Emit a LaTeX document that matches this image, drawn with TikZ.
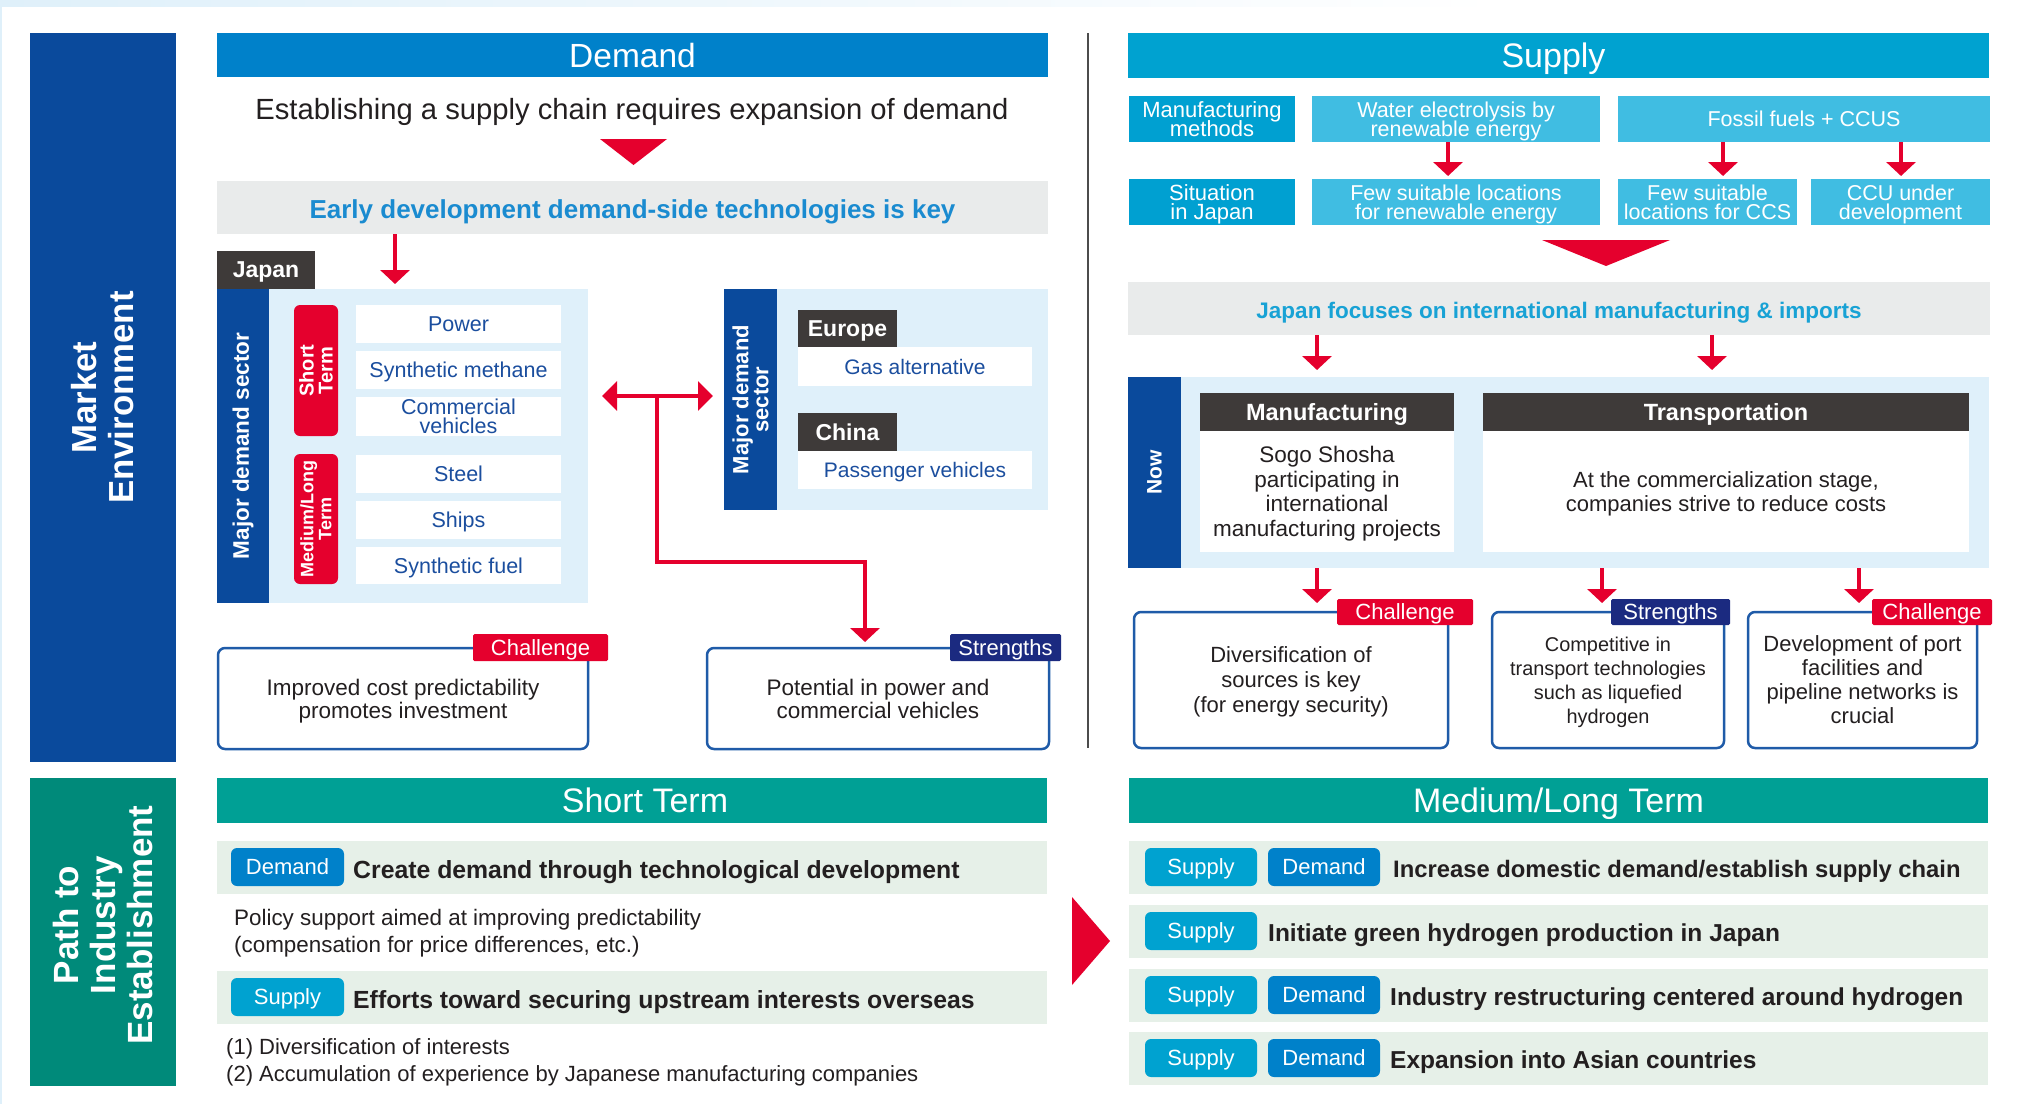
\documentclass[tikz,border=0pt]{standalone}
\usepackage{fontspec}
\setmainfont{Liberation Sans}
\usetikzlibrary{arrows.meta}
\newcommand\fs[2]{\fontsize{#1}{#2}\selectfont\lineskiplimit=-100pt\relax}
\definecolor{mktblue}{HTML}{0A4A9C}
\definecolor{dmdblue}{HTML}{0081CA}
\definecolor{supblue}{HTML}{00A2D0}
\definecolor{cyanA}{HTML}{00A0D1}
\definecolor{cyanB}{HTML}{40BDE2}
\definecolor{bandgray}{HTML}{E9EBEB}
\definecolor{panelblue}{HTML}{DFF0FA}
\definecolor{hred}{HTML}{E5002D}
\definecolor{darktab}{HTML}{3E3A39}
\definecolor{navytab}{HTML}{1B2A80}
\definecolor{hteal}{HTML}{00A095}
\definecolor{pathteal}{HTML}{008A7A}
\definecolor{lgreen}{HTML}{E6F0E8}
\definecolor{itemblue}{HTML}{1B4E9E}
\definecolor{earlyblue}{HTML}{1A8BD0}
\definecolor{focusblue}{HTML}{18A2D5}
\definecolor{ink}{HTML}{231F20}
\definecolor{boxblue}{HTML}{1F5BA8}
\newcommand\Bx[7]{\node[#2, anchor=north west, minimum width={(#5-#3)*1pt}, minimum height={(#6-#4)*1pt}] (#1) at (#3,#4) {#7};}
\begin{document}
\begin{tikzpicture}[x=1pt,y=-1pt,
  base/.style={inner sep=0pt, outer sep=0pt, align=center, text depth=0pt},
  fillbox/.style={base, fill=#1},
  hdr/.style={base, fill=#1, text=white, font=\fs{34}{36}},
  lbl/.style={base},
  rot/.style={rotate=90, text=white, align=center, inner sep=0pt, font=\bfseries\fs{22}{21}},
  tabdark/.style={base, fill=darktab, text=white, font=\bfseries\fs{23}{26}},
  item/.style={base, fill=white, text=itemblue, font=\fs{21.5}{19}},
  sbox/.style={base, fill=#1, text=white, font=\fs{21.5}{18.5}},
  cbox/.style={base, fill=white, draw=boxblue, line width=2.5pt, rounded corners=7pt, text=ink},
  ctab/.style={base, fill=#1, text=white, font=\fs{22}{24}, rounded corners=1.5pt},
  badge/.style={base, fill=#1, text=white, font=\fs{22}{24}, rounded corners=6pt},
  rowtxt/.style={inner sep=0pt, anchor=west, text depth=0pt, text=ink, font=\bfseries\fs{24.5}{26}},
  rarrow/.style={draw=hred, line width=4.5pt, -{Triangle[width=29pt,length=14pt]}},
  dbl/.style={draw=hred, line width=4.5pt, {Triangle[width=29pt,length=15pt]}-{Triangle[width=29pt,length=15pt]}}
]
\useasboundingbox (0,0) rectangle (2017,1104);
\fill[white] (0,0) rectangle (2017,1104);
\shade[left color=panelblue, right color=white] (0,0) rectangle (1500,6);
\fill[panelblue] (0,0) rectangle (2,1104);

% ---------- left side bars
\Bx{mkt}{fillbox=mktblue}{30}{33}{176}{762}{}
\node[rot, font=\bfseries\fs{34.8}{37}] at (mkt.center) {Market\\Environment};
\Bx{path}{fillbox=pathteal}{30}{778}{176}{1086}{}
\node[rot, font=\bfseries\fs{35}{37}] at ([yshift=7pt]path.center) {Path to\\Industry\\Establishment};

% ---------- Demand
\Bx{dhdr}{hdr=dmdblue, font=\fs{33.5}{36}}{217}{33}{1048}{77}{Demand}
\node[lbl, text=ink, font=\fs{29.2}{32}] (estab) at (632,109) {Establishing a supply chain requires expansion of demand};
\fill[hred] (600,139) -- (667,139) -- (633.5,165) -- cycle;
\Bx{early}{fillbox=bandgray}{217}{181}{1048}{234}{}
\node[lbl, text=earlyblue, font=\bfseries\fs{26}{28}] at ([yshift=-1.5pt]early.center) {Early development demand-side technologies is key};

\Bx{jtab}{tabdark}{217}{251}{315}{289}{Japan}
\Bx{jpanel}{fillbox=panelblue}{217}{289}{588}{603}{}
\Bx{jstrip}{fillbox=mktblue}{217}{289}{269}{603}{}
\node[rot, font=\bfseries\fs{22.5}{22}] at (jstrip.center) {Major demand sector};
\Bx{st}{fillbox=hred, rounded corners=6pt}{294}{305}{338}{436}{}
\node[rot, font=\bfseries\fs{20}{19}] at (st.center) {Short\\Term};
\Bx{ml}{fillbox=hred, rounded corners=6pt}{294}{454}{338}{584}{}
\node[rot, font=\bfseries\fs{18}{18}] at (ml.center) {Medium/Long\\Term};
\Bx{it1}{item}{356}{305}{561}{343}{Power}
\Bx{it2}{item}{356}{351}{561}{389}{Synthetic methane}
\Bx{it3}{item}{356}{397}{561}{436}{Commercial\\vehicles}
\Bx{it4}{item}{356}{455}{561}{493}{Steel}
\Bx{it5}{item}{356}{501}{561}{539}{Ships}
\Bx{it6}{item}{356}{547}{561}{584}{Synthetic fuel}

\Bx{wpanel}{fillbox=panelblue}{724}{289}{1048}{510}{}
\Bx{wstrip}{fillbox=mktblue}{724}{289}{777}{510}{}
\node[rot, font=\bfseries\fs{22}{20}] at (wstrip.center) {Major demand\\sector};
\Bx{eutab}{tabdark}{798}{310}{897}{347}{Europe}
\Bx{gas}{item, font=\fs{21}{20}}{798}{347}{1032}{386}{Gas alternative}
\Bx{cntab}{tabdark}{798}{413}{897}{451}{China}
\Bx{pass}{item, font=\fs{21}{20}}{798}{451}{1032}{489}{Passenger vehicles}

\Bx{chl1}{cbox, font=\fs{22.5}{23}}{218}{648}{588}{749}{Improved cost predictability\\promotes investment}
\Bx{chl1t}{ctab=hred}{473}{634}{608}{661}{Challenge}
\Bx{str1}{cbox, font=\fs{22.5}{23}}{707}{648}{1049}{749}{Potential in power and\\commercial vehicles}
\Bx{str1t}{ctab=navytab}{950}{634}{1061}{661}{Strengths}

% arrows demand side
\coordinate (a1) at (395,0);
\draw[rarrow, shorten >=5pt] (early.south -| a1) -- (jpanel.north -| a1);
\coordinate (y396) at (0,396);
\draw[dbl, shorten <=14pt, shorten >=11pt] (jpanel.east |- y396) -- (wpanel.west |- y396);
\coordinate (e0) at (657,396);
\coordinate (e1) at (657,562);
\coordinate (e2) at (865,562);
\draw[rarrow, line width=4pt, shorten >=6pt] (e0) -- (e1) -- (e2) -- (e2 |- str1.north);

% divider
\draw[draw=black!70, line width=1.3pt] (1088,33) -- (1088,748);

% ---------- Supply
\Bx{shdr}{fillbox=supblue}{1128}{33}{1989}{78}{}
\node[lbl, text=white, font=\fs{34}{36}] at ([xshift=-5pt]shdr.center) {Supply};
\Bx{mm}{sbox=cyanA, font=\fs{22}{18.5}}{1129}{96}{1295}{142}{Manufacturing\\methods}
\Bx{we}{sbox=cyanB}{1312}{96}{1600}{142}{Water electrolysis by\\renewable energy}
\Bx{ff}{sbox=cyanB}{1618}{96}{1990}{142}{Fossil fuels + CCUS}
\Bx{sj}{sbox=cyanA, font=\fs{22}{18.5}}{1129}{179}{1295}{225}{Situation\\in Japan}
\Bx{fr}{sbox=cyanB}{1312}{179}{1600}{225}{Few suitable locations\\for renewable energy}
\Bx{fc}{sbox=cyanB}{1618}{179}{1797}{225}{Few suitable\\locations for CCS}
\Bx{ccu}{sbox=cyanB}{1811}{179}{1990}{225}{CCU under\\development}
\coordinate (x1) at (1448,0);
\coordinate (x2) at (1723,0);
\coordinate (x3) at (1901,0);
\draw[rarrow, shorten >=3pt] (we.south -| x1) -- (fr.north -| x1);
\draw[rarrow, shorten >=3pt] (ff.south -| x2) -- (fc.north -| x2);
\draw[rarrow, shorten >=3pt] (ff.south -| x3) -- (ccu.north -| x3);
\fill[hred] (1542,240) -- (1670,240) -- (1606,266) -- cycle;
\Bx{focus}{fillbox=bandgray}{1128}{282}{1990}{335}{}
\node[lbl, text=focusblue, font=\bfseries\fs{22.5}{25}] at ([yshift=-1.5pt]focus.center) {Japan focuses on international manufacturing \& imports};

\Bx{now}{fillbox=panelblue}{1128}{377}{1989}{568}{}
\Bx{nowstrip}{fillbox=mktblue}{1128}{377}{1181}{568}{}
\node[rot, font=\bfseries\fs{21}{22}] at (nowstrip.center) {Now};
\Bx{mfgh}{tabdark, font=\bfseries\fs{23.5}{26}}{1200}{393}{1454}{431}{Manufacturing}
\Bx{mfgb}{fillbox=white, text=ink, font=\fs{22.5}{24.5}}{1200}{431}{1454}{552}{Sogo Shosha\\participating in\\international\\manufacturing projects}
\Bx{trh}{tabdark, font=\bfseries\fs{23.5}{26}}{1483}{393}{1969}{431}{Transportation}
\Bx{trb}{fillbox=white, text=ink, font=\fs{22}{24}}{1483}{431}{1969}{552}{At the commercialization stage,\\companies strive to reduce costs}
\coordinate (x4) at (1317,0);
\coordinate (x5) at (1712,0);
\draw[rarrow, shorten >=7pt] (focus.south -| x4) -- (now.north -| x4);
\draw[rarrow, shorten >=7pt] (focus.south -| x5) -- (now.north -| x5);

\Bx{b1}{cbox, font=\fs{22}{25}}{1134}{612}{1448}{748}{Diversification of\\sources is key\\(for energy security)}
\Bx{b1t}{ctab=hred}{1337}{599}{1473}{625}{Challenge}
\Bx{b2}{cbox, font=\fs{19.9}{24}}{1492}{612}{1724}{748}{Competitive in\\transport technologies\\such as liquefied\\hydrogen}
\Bx{b2t}{ctab=navytab}{1611}{599}{1730}{625}{Strengths}
\Bx{b3}{cbox, font=\fs{22}{24}}{1748}{612}{1977}{748}{Development of port\\facilities and\\pipeline networks is\\crucial}
\Bx{b3t}{ctab=hred}{1872}{599}{1992}{625}{Challenge}
\coordinate (x6) at (1317,0);
\coordinate (x7) at (1602,0);
\coordinate (x8) at (1859,0);
\draw[rarrow, shorten >=9pt] (now.south -| x6) -- (b1.north -| x6);
\draw[rarrow, shorten >=9pt] (now.south -| x7) -- (b2.north -| x7);
\draw[rarrow, shorten >=9pt] (now.south -| x8) -- (b3.north -| x8);

% ---------- Short term
\Bx{sthdr}{fillbox=hteal}{217}{778}{1047}{823}{}
\node[lbl, text=white, font=\fs{34}{36}] at (645,800.5) {Short Term};
\Bx{sr1}{fillbox=lgreen}{217}{841}{1047}{894}{}
\Bx{sr2}{fillbox=lgreen}{217}{971}{1047}{1024}{}
\Bx{sb1}{badge=dmdblue}{231}{848}{344}{886}{Demand}
\node[rowtxt, font=\bfseries\fs{24.8}{26}] (st1) at (353,869) {Create demand through technological development};
\node[inner sep=0pt, anchor=west, align=left, text depth=0pt, text=ink, font=\fs{22.4}{27}] (pol) at (234,931) {Policy support aimed at improving predictability\\(compensation for price differences, etc.)};
\Bx{sb2}{badge=supblue}{231}{978}{344}{1016}{Supply}
\node[rowtxt, font=\bfseries\fs{24.8}{26}] (st2) at (353,999) {Efforts toward securing upstream interests overseas};
\node[inner sep=0pt, anchor=west, align=left, text depth=0pt, text=ink, font=\fs{22}{27}] (div) at (226,1060) {(1) Diversification of interests\\(2) Accumulation of experience by Japanese manufacturing companies};

% ---------- Medium/Long term
\fill[hred] (1072,897) -- (1072,985) -- (1110,941) -- cycle;
\Bx{mlhdr}{hdr=hteal}{1129}{778}{1988}{823}{Medium/Long Term}
\Bx{mr1}{fillbox=lgreen}{1129}{841}{1988}{894}{}
\Bx{mr2}{fillbox=lgreen}{1129}{905}{1988}{958}{}
\Bx{mr3}{fillbox=lgreen}{1129}{969}{1988}{1022}{}
\Bx{mr4}{fillbox=lgreen}{1129}{1032}{1988}{1085}{}
\Bx{ms1}{badge=supblue}{1145}{848}{1257}{886}{Supply}
\Bx{md1}{badge=dmdblue}{1268}{848}{1380}{886}{Demand}
\node[rowtxt, font=\bfseries\fs{23.8}{26}] (mt1) at (1393,869) {Increase domestic demand/establish supply chain};
\Bx{ms2}{badge=supblue}{1145}{912}{1257}{950}{Supply}
\node[rowtxt] (mt2) at (1268,933) {Initiate green hydrogen production in Japan};
\Bx{ms3}{badge=supblue}{1145}{976}{1257}{1014}{Supply}
\Bx{md3}{badge=dmdblue}{1268}{976}{1380}{1014}{Demand}
\node[rowtxt] (mt3) at (1390,997) {Industry restructuring centered around hydrogen};
\Bx{ms4}{badge=supblue}{1145}{1039}{1257}{1077}{Supply}
\Bx{md4}{badge=dmdblue}{1268}{1039}{1380}{1077}{Demand}
\node[rowtxt] (mt4) at (1390,1060) {Expansion into Asian countries};
\end{tikzpicture}
\end{document}
